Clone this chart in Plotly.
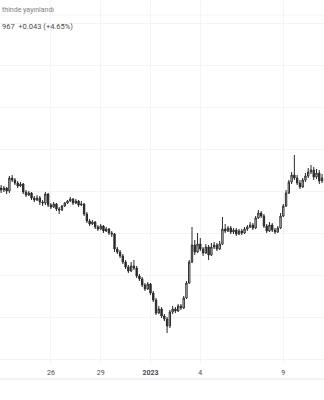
import pandas as pd
import plotly.graph_objects as go

# 4-hour candles, 23 Dec 2022 00:00 -> 11 Jan 2023 08:00
start = "2022-12-23 00:00"
n_candles = 117

open_ = [0.9620,0.9610,0.9620,0.9605,0.9670,0.9660,0.9645,0.9630,0.9640,0.9600,
         0.9585,0.9595,0.9570,0.9560,0.9570,0.9550,0.9545,0.9590,0.9535,0.9525,
         0.9540,0.9515,0.9510,0.9530,0.9545,0.9555,0.9565,0.9545,0.9555,0.9535,
         0.9540,0.9490,0.9455,0.9440,0.9450,0.9425,0.9415,0.9430,0.9405,0.9415,
         0.9395,0.9390,0.9315,0.9300,0.9280,0.9250,0.9225,0.9205,0.9230,0.9220,
         0.9180,0.9165,0.9135,0.9115,0.9140,0.9095,0.9060,0.8995,0.9015,0.8980,
         0.8965,0.8930,0.9000,0.9015,0.9005,0.9030,0.9020,0.9070,0.9145,0.9250,
         0.9335,0.9300,0.9340,0.9315,0.9295,0.9325,0.9285,0.9325,0.9335,0.9315,
         0.9340,0.9415,0.9405,0.9420,0.9400,0.9410,0.9390,0.9405,0.9395,0.9415,
         0.9425,0.9435,0.9420,0.9470,0.9495,0.9480,0.9430,0.9405,0.9435,0.9410,
         0.9400,0.9420,0.9480,0.9530,0.9595,0.9650,0.9685,0.9670,0.9645,0.9625,
         0.9660,0.9680,0.9700,0.9710,0.9675,0.9695,0.9655]
high = [0.9635,0.9630,0.9625,0.9680,0.9685,0.9670,0.9655,0.9650,0.9645,0.9610,
        0.9605,0.9600,0.9580,0.9585,0.9580,0.9560,0.9600,0.9595,0.9545,0.9550,
        0.9545,0.9525,0.9535,0.9550,0.9560,0.9575,0.9570,0.9565,0.9560,0.9555,
        0.9545,0.9500,0.9465,0.9460,0.9455,0.9435,0.9440,0.9435,0.9425,0.9420,
        0.9405,0.9395,0.9325,0.9310,0.9290,0.9260,0.9235,0.9250,0.9260,0.9230,
        0.9190,0.9175,0.9145,0.9150,0.9145,0.9105,0.9070,0.9030,0.9025,0.8990,
        0.8975,0.9010,0.9030,0.9025,0.9040,0.9040,0.9080,0.9155,0.9260,0.9425,
        0.9360,0.9395,0.9370,0.9325,0.9340,0.9335,0.9345,0.9350,0.9345,0.9355,
        0.9475,0.9440,0.9430,0.9430,0.9420,0.9420,0.9415,0.9415,0.9425,0.9435,
        0.9450,0.9445,0.9480,0.9510,0.9505,0.9490,0.9440,0.9450,0.9445,0.9420,
        0.9430,0.9495,0.9540,0.9610,0.9660,0.9700,0.9785,0.9685,0.9660,0.9670,
        0.9695,0.9720,0.9735,0.9725,0.9715,0.9710,0.9690]
low = [0.9595,0.9600,0.9590,0.9595,0.9650,0.9635,0.9620,0.9625,0.9590,0.9575,
       0.9580,0.9560,0.9550,0.9555,0.9535,0.9530,0.9535,0.9525,0.9515,0.9520,
       0.9505,0.9490,0.9505,0.9525,0.9540,0.9550,0.9535,0.9540,0.9525,0.9530,
       0.9480,0.9445,0.9430,0.9435,0.9415,0.9405,0.9410,0.9395,0.9400,0.9385,
       0.9375,0.9300,0.9290,0.9270,0.9240,0.9215,0.9195,0.9200,0.9210,0.9170,
       0.9155,0.9125,0.9105,0.9110,0.9085,0.9050,0.8985,0.8990,0.8970,0.8955,
       0.8895,0.8920,0.8990,0.8995,0.9000,0.9010,0.9015,0.9065,0.9140,0.9245,
       0.9285,0.9295,0.9305,0.9280,0.9290,0.9260,0.9280,0.9315,0.9305,0.9310,
       0.9335,0.9395,0.9400,0.9390,0.9390,0.9380,0.9385,0.9385,0.9390,0.9405,
       0.9420,0.9410,0.9415,0.9465,0.9470,0.9420,0.9395,0.9400,0.9400,0.9390,
       0.9395,0.9415,0.9475,0.9525,0.9590,0.9640,0.9660,0.9635,0.9615,0.9620,
       0.9650,0.9670,0.9690,0.9660,0.9665,0.9640,0.9645]
close = [0.9610,0.9620,0.9605,0.9670,0.9660,0.9645,0.9630,0.9640,0.9600,0.9585,
         0.9595,0.9570,0.9560,0.9570,0.9550,0.9545,0.9590,0.9535,0.9525,0.9540,
         0.9515,0.9510,0.9530,0.9545,0.9555,0.9565,0.9545,0.9555,0.9535,0.9540,
         0.9490,0.9455,0.9440,0.9450,0.9425,0.9415,0.9430,0.9405,0.9415,0.9395,
         0.9390,0.9315,0.9300,0.9280,0.9250,0.9225,0.9205,0.9230,0.9220,0.9180,
         0.9165,0.9135,0.9115,0.9140,0.9095,0.9060,0.8995,0.9015,0.8980,0.8965,
         0.8930,0.9000,0.9015,0.9005,0.9030,0.9020,0.9070,0.9145,0.9250,0.9335,
         0.9300,0.9340,0.9315,0.9295,0.9325,0.9285,0.9325,0.9335,0.9315,0.9340,
         0.9415,0.9405,0.9420,0.9400,0.9410,0.9390,0.9405,0.9395,0.9415,0.9425,
         0.9435,0.9420,0.9470,0.9495,0.9480,0.9430,0.9405,0.9435,0.9410,0.9400,
         0.9420,0.9480,0.9530,0.9595,0.9650,0.9685,0.9670,0.9645,0.9625,0.9660,
         0.9680,0.9700,0.9710,0.9675,0.9695,0.9655,0.9670]

tick_dates = ["2022-12-26", "2022-12-29", "2023-01-01", "2023-01-04", "2023-01-09"]
tick_labels = ["26", "29", "<b>2023</b>", "4", "9"]

header_line1 = "thinde yayınlandı"
header_line2 = "967  +0.043 (+4.65%)"

times = pd.date_range(start, periods=n_candles, freq="4h")

fig = go.Figure(go.Candlestick(
    x=times, open=open_, high=high, low=low, close=close,
    increasing=dict(fillcolor="#ffffff", line=dict(color="#2a2a2a", width=1)),
    decreasing=dict(fillcolor="#2a2a2a", line=dict(color="#2a2a2a", width=1)),
    whiskerwidth=0,
    showlegend=False,
    hoverinfo="skip",
))

FONT = "Roboto, 'Open Sans', sans-serif"
GRID = "#f4f4f6"

fig.update_layout(
    width=324, height=400,
    margin=dict(l=0, r=0, t=0, b=36),
    paper_bgcolor="#ffffff",
    plot_bgcolor="#ffffff",
    font=dict(family=FONT, size=7, color="#555555"),
    xaxis=dict(
        type="date",
        range=["2022-12-22 22:25", "2023-01-11 10:50"],
        rangeslider=dict(visible=False),
        tickmode="array",
        tickvals=tick_dates,
        ticktext=tick_labels,
        tickfont=dict(size=7, color="#4a4a4a"),
        showgrid=True, gridcolor=GRID, gridwidth=1,
        showline=False, zeroline=False, ticks="",
        ticklabelstandoff=3,
    ),
    yaxis=dict(
        range=[0.874, 1.056],
        tickmode="linear", tick0=0.9395, dtick=0.021,
        showticklabels=False,
        showgrid=True, gridcolor=GRID, gridwidth=1,
        showline=False, zeroline=False, ticks="",
    ),
    shapes=[
        dict(type="line", xref="paper", yref="paper", x0=0, x1=1,
             y0=-15/364, y1=-15/364, line=dict(color="#e9e9ed", width=1)),
        dict(type="line", xref="paper", yref="paper", x0=0, x1=1,
             y0=1 - 15/364, y1=1 - 15/364, line=dict(color=GRID, width=1)),
    ],
    annotations=[
        dict(text=header_line1, xref="paper", yref="paper",
             x=0, y=1 - 10/364, xanchor="left", yanchor="middle",
             showarrow=False, font=dict(family=FONT, size=7, color="#808080")),
        dict(text=header_line2, xref="paper", yref="paper",
             x=0, y=1 - 27/364, xanchor="left", yanchor="middle",
             showarrow=False, font=dict(family=FONT, size=7.5, color="#4a4a4a")),
    ],
)

fig.write_html("out.html")
